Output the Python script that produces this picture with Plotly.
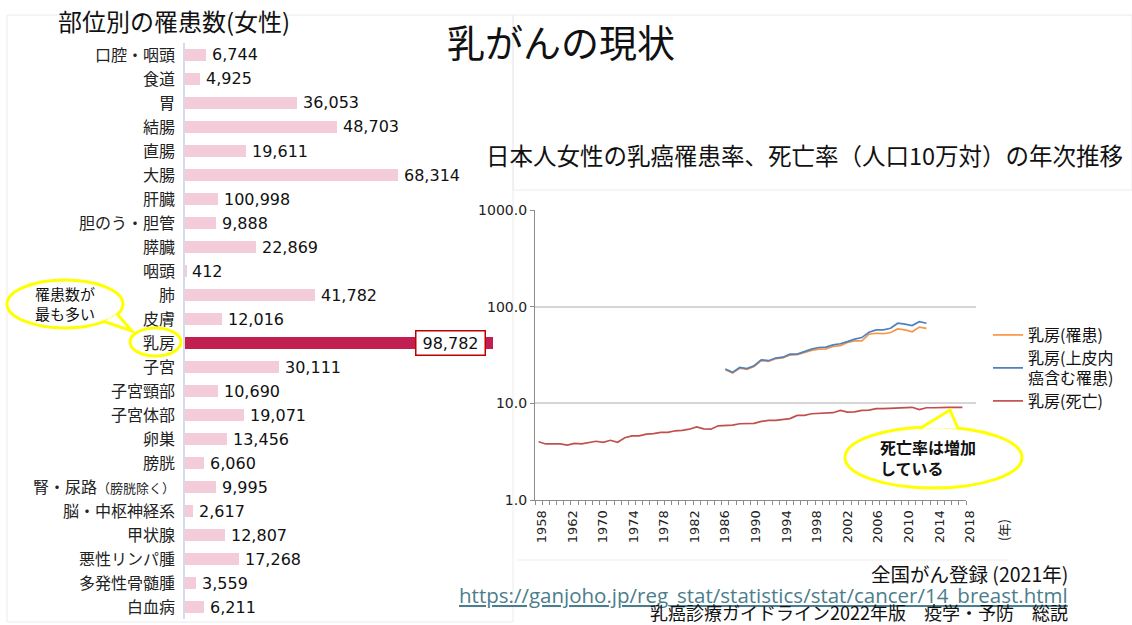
import plotly.graph_objects as go

# ---------------- data ----------------
categories = ["口腔・咽頭", "食道", "胃", "結腸", "直腸", "大腸", "肝臓", "胆のう・胆管",
              "膵臓", "咽頭", "肺", "皮膚", "乳房", "子宮", "子宮頸部", "子宮体部", "卵巣",
              "膀胱", "腎・尿路（膀胱除く）", "脳・中枢神経系", "甲状腺", "悪性リンパ腫",
              "多発性骨髄腫", "白血病"]
# printed value labels (as shown on the slide)
count_labels = ["6,744", "4,925", "36,053", "48,703", "19,611", "68,314", "100,998", "9,888",
                "22,869", "412", "41,782", "12,016", "98,782", "30,111", "10,690", "19,071",
                "13,456", "6,060", "9,995", "2,617", "12,807", "17,268", "3,559", "6,211"]
# bar lengths as drawn (liver bar is drawn far shorter than its printed label)
bar_counts = [6744, 4925, 36053, 48703, 19611, 68314, 10600, 9888,
              22869, 412, 41782, 12016, 98782, 30111, 10690, 19071,
              13456, 6060, 9995, 2617, 12807, 17268, 3559, 6211]
highlight = "乳房"

death_years = list(range(1958, 2018))
death_rate = [4.0, 3.8, 3.8, 3.8, 3.7, 3.85, 3.8, 3.9, 4.05, 3.95,
              4.15, 3.95, 4.4, 4.6, 4.6, 4.8, 4.85, 5.0, 5.0, 5.2,
              5.25, 5.4, 5.7, 5.45, 5.4, 5.85, 5.9, 5.95, 6.15, 6.2,
              6.2, 6.5, 6.65, 6.65, 6.8, 6.95, 7.5, 7.5, 7.8, 7.9,
              7.95, 8.0, 8.45, 8.1, 8.15, 8.45, 8.5, 8.8, 8.8, 8.9,
              9.0, 9.1, 9.1, 8.6, 9.0, 9.0, 9.1, 9.1, 9.1, 9.1]

inc_years = list(range(1984, 2013))
incidence = [22.3, 20.6, 23.1, 22.5, 24.1, 27.7, 27.2, 29.0, 29.5, 31.6,
             31.8, 33.6, 35.2, 36.3, 36.6, 38.7, 39.6, 42.6, 44.2, 44.3,
             51.9, 53.1, 52.5, 54.0, 58.9, 57.5, 55.0, 61.4, 59.6]
incidence_insitu = [22.6, 20.9, 23.5, 22.9, 24.5, 28.2, 27.6, 29.4, 30.0, 32.3,
                    32.3, 34.4, 36.4, 37.8, 38.1, 40.3, 41.3, 43.5, 46.1, 47.9,
                    54.4, 57.5, 57.5, 59.8, 67.4, 66.0, 63.7, 70.0, 67.4]

year_labels = ["1958", "1962", "1970", "1974", "1978", "1982", "1986", "1990",
               "1994", "1998", "2002", "2006", "2010", "2014", "2018"]
y_tickvals = [1, 10, 100, 1000]
y_ticktext = ["1.0", "10.0", "100.0", "1000.0"]

series_names = ["乳房(罹患)", "乳房(上皮内<br>癌含む罹患)", "乳房(死亡)"]

# ---------------- helpers ----------------
W, H = 1132, 625
JP = "Noto Sans CJK JP"
NUM = "DejaVu Sans, Noto Sans CJK JP"


def fx(p):
    return p / W


def fy(p):
    return 1 - p / H


fig = go.Figure()

# ---- left: bar chart ----
bar_colors = ["#c11f52" if c == highlight else "#f4ccd9" for c in categories]
fig.add_trace(go.Bar(x=bar_counts, y=categories, orientation="h",
                     marker=dict(color=bar_colors, line=dict(width=0)),
                     width=0.46, xaxis="x", yaxis="y", showlegend=False,
                     hoverinfo="skip"))

tick_text = [c if c != "腎・尿路（膀胱除く）" else
             "腎・尿路<span style='font-size:13px'>（膀胱除く）</span>"
             for c in categories]

annotations = []
for c, v, lab in zip(categories, bar_counts, count_labels):
    if c == highlight:
        annotations.append(dict(x=v, y=c, xref="x", yref="y", text=lab,
                                xanchor="right", yanchor="middle", xshift=-7,
                                showarrow=False, bgcolor="white",
                                bordercolor="#c00000", borderwidth=1.5,
                                borderpad=2, width=64, height=19,
                                font=dict(family=NUM, size=16, color="#111")))
    else:
        annotations.append(dict(x=v, y=c, xref="x", yref="y", text=lab,
                                xanchor="left", yanchor="middle", xshift=4,
                                showarrow=False,
                                font=dict(family=NUM, size=16, color="#111")))

# ---- right: line chart (each series has its own legend box) ----
line_colors = ["#f79646", "#4f81bd", "#c0504d"]
legend_ids = ["legend", "legend2", "legend3"]
fig.add_trace(go.Scatter(x=inc_years, y=incidence, mode="lines", name=series_names[0],
                         line=dict(color=line_colors[0], width=1.7),
                         xaxis="x2", yaxis="y2", legend=legend_ids[0]))
fig.add_trace(go.Scatter(x=inc_years, y=incidence_insitu, mode="lines", name=series_names[1],
                         line=dict(color=line_colors[1], width=1.7),
                         xaxis="x2", yaxis="y2", legend=legend_ids[1]))
fig.add_trace(go.Scatter(x=death_years, y=death_rate, mode="lines", name=series_names[2],
                         line=dict(color=line_colors[2], width=1.7),
                         xaxis="x2", yaxis="y2", legend=legend_ids[2]))
# carrier for the year-label axis
fig.add_trace(go.Scatter(x=[], y=[], xaxis="x3", yaxis="y2", showlegend=False))

# ---- text annotations ----
annotations += [
    dict(x=fx(561), y=fy(40), xref="paper", yref="paper", text="乳がんの現状",
         showarrow=False, xanchor="center", yanchor="middle",
         font=dict(family=JP, size=38, color="#111")),
    dict(x=fx(56), y=fy(21), xref="paper", yref="paper", text="部位別の罹患数(女性)",
         showarrow=False, xanchor="left", yanchor="middle",
         font=dict(family=JP, size=24, color="#111")),
    dict(x=fx(805), y=fy(155), xref="paper", yref="paper",
         text="日本人女性の乳癌罹患率、死亡率（人口10万対）の年次推移",
         showarrow=False, xanchor="center", yanchor="middle",
         font=dict(family=JP, size=23.5, color="#111")),
    dict(x=fx(1003), y=fy(530), xref="paper", yref="paper", text="(年)",
         showarrow=False, textangle=-90, xanchor="center", yanchor="middle",
         font=dict(family=JP, size=13, color="#222")),
    dict(x=fx(33), y=fy(304), xref="paper", yref="paper", text="罹患数が<br>最も多い",
         showarrow=False, xanchor="left", yanchor="middle", align="left",
         font=dict(family=JP, size=15, color="#111")),
    dict(x=fx(878), y=fy(457), xref="paper", yref="paper", text="<b>死亡率は増加<br>している</b>",
         showarrow=False, xanchor="left", yanchor="middle", align="left",
         font=dict(family=JP, size=16, color="#111")),
    dict(x=fx(1070), y=fy(573), xref="paper", yref="paper", text="全国がん登録 (2021年)",
         showarrow=False, xanchor="right", yanchor="middle",
         font=dict(family=JP, size=19.5, color="#111")),
    dict(x=fx(1070), y=fy(595), xref="paper", yref="paper",
         text="https://ganjoho.jp/reg_stat/statistics/stat/cancer/14_breast.html",
         showarrow=False, xanchor="right", yanchor="middle",
         font=dict(family="Open Sans, Noto Sans CJK JP", size=20.5, color="#4b7d8c",
                   lineposition="under")),
    dict(x=fx(1070), y=fy(612), xref="paper", yref="paper",
         text="乳癌診療ガイドライン2022年版　疫学・予防　総説",
         showarrow=False, xanchor="right", yanchor="middle",
         font=dict(family=JP, size=18, color="#111")),
]

# ---- shapes: faint panel borders + callouts ----
faint = dict(color="#ececec", width=1)
shapes = [
    dict(type="rect", xref="paper", yref="paper", x0=fx(7), x1=fx(513), y0=fy(15), y1=fy(622),
         line=faint, layer="below"),
    dict(type="rect", xref="paper", yref="paper", x0=fx(513), x1=fx(1132), y0=fy(15), y1=fy(190),
         line=faint, layer="below"),
    dict(type="line", xref="paper", yref="paper", x0=fx(517), x1=fx(1008), y0=fy(560), y1=fy(560),
         line=faint, layer="below"),
]
yellow = dict(color="#ffff00", width=3)
shapes += [
    # left speech bubble
    dict(type="circle", xref="paper", yref="paper", x0=fx(7), x1=fx(123), y0=fy(280), y1=fy(328),
         line=yellow, fillcolor="white", layer="above"),
    dict(type="path", xref="paper", yref="paper",
         path=f"M {fx(104)} {fy(321.5)} L {fx(132)} {fy(331)} L {fx(117)} {fy(314)}",
         line=yellow, fillcolor="white", layer="above"),
    # circle around 乳房
    dict(type="circle", xref="paper", yref="paper", x0=fx(130), x1=fx(181), y0=fy(328), y1=fy(356),
         line=yellow, fillcolor="rgba(0,0,0,0)", layer="above"),
    # right speech bubble
    dict(type="circle", xref="paper", yref="paper", x0=fx(845), x1=fx(1022), y0=fy(427), y1=fy(488),
         line=yellow, fillcolor="white", layer="above"),
    dict(type="path", xref="paper", yref="paper",
         path=f"M {fx(920)} {fy(428.5)} L {fx(950)} {fy(410)} L {fx(958)} {fy(428.5)}",
         line=yellow, fillcolor="white", layer="above"),
]

legend_common = dict(xanchor="left", yanchor="middle", bgcolor="rgba(0,0,0,0)",
                     font=dict(family=JP, size=16, color="#111"), itemwidth=30,
                     borderwidth=0)

fig.update_layout(
    width=W, height=H, autosize=False,
    margin=dict(l=0, r=0, t=0, b=0, pad=0, autoexpand=False),
    paper_bgcolor="white", plot_bgcolor="rgba(0,0,0,0)",
    bargap=0,
    xaxis=dict(domain=[fx(185), fx(505)], range=[0, 320 * 320.7], anchor="y",
               showgrid=False, zeroline=False, showticklabels=False, showline=False,
               automargin=False),
    yaxis=dict(domain=[fy(619), fy(43)], type="category", categoryorder="array",
               categoryarray=categories, autorange="reversed", anchor="x",
               tickmode="array", tickvals=categories, ticktext=tick_text,
               showline=True, linecolor="#d5dbe5", linewidth=1.5,
               ticks="outside", ticklen=5, tickcolor="rgba(0,0,0,0)",
               tickfont=dict(family=JP, size=16, color="#222"),
               showgrid=False, zeroline=False, automargin=False),
    xaxis2=dict(domain=[fx(535), fx(966)], range=[1957.5, 2017.5], anchor="y2",
                tickmode="linear", tick0=1957.5, dtick=1, ticks="outside", ticklen=4,
                tickcolor="#8c8c8c", showticklabels=False, showline=True,
                linecolor="#8c8c8c", linewidth=1.2, showgrid=False, zeroline=False,
                automargin=False),
    yaxis2=dict(domain=[fy(500), fy(210)], type="log", range=[0, 3], anchor="x2",
                tickmode="array", tickvals=y_tickvals, ticktext=y_ticktext,
                ticks="outside", ticklen=4, tickcolor="#8c8c8c",
                showline=True, linecolor="#8c8c8c", linewidth=1.2,
                showgrid=True, gridcolor="#d6d6d6", gridwidth=1.5, zeroline=False,
                tickfont=dict(family=NUM, size=14, color="#222"), automargin=False),
    xaxis3=dict(domain=[fx(535.6), fx(976.1)], range=[-0.2, 14.2], anchor="y2",
                tickmode="array", tickvals=list(range(len(year_labels))), ticktext=year_labels,
                tickangle=-90, ticks="outside", ticklen=4, tickcolor="rgba(0,0,0,0)",
                showline=False, showgrid=False, zeroline=False,
                tickfont=dict(family=NUM, size=13, color="#222"), automargin=False),
    legend=dict(x=fx(988), y=fy(335), **legend_common),
    legend2=dict(x=fx(988), y=fy(368), **legend_common),
    legend3=dict(x=fx(988), y=fy(401), **legend_common),
    annotations=annotations,
    shapes=shapes,
)

fig.write_html("out.html", config={"displayModeBar": False},
               post_script="document.body.style.margin='0';document.body.style.padding='0';")
